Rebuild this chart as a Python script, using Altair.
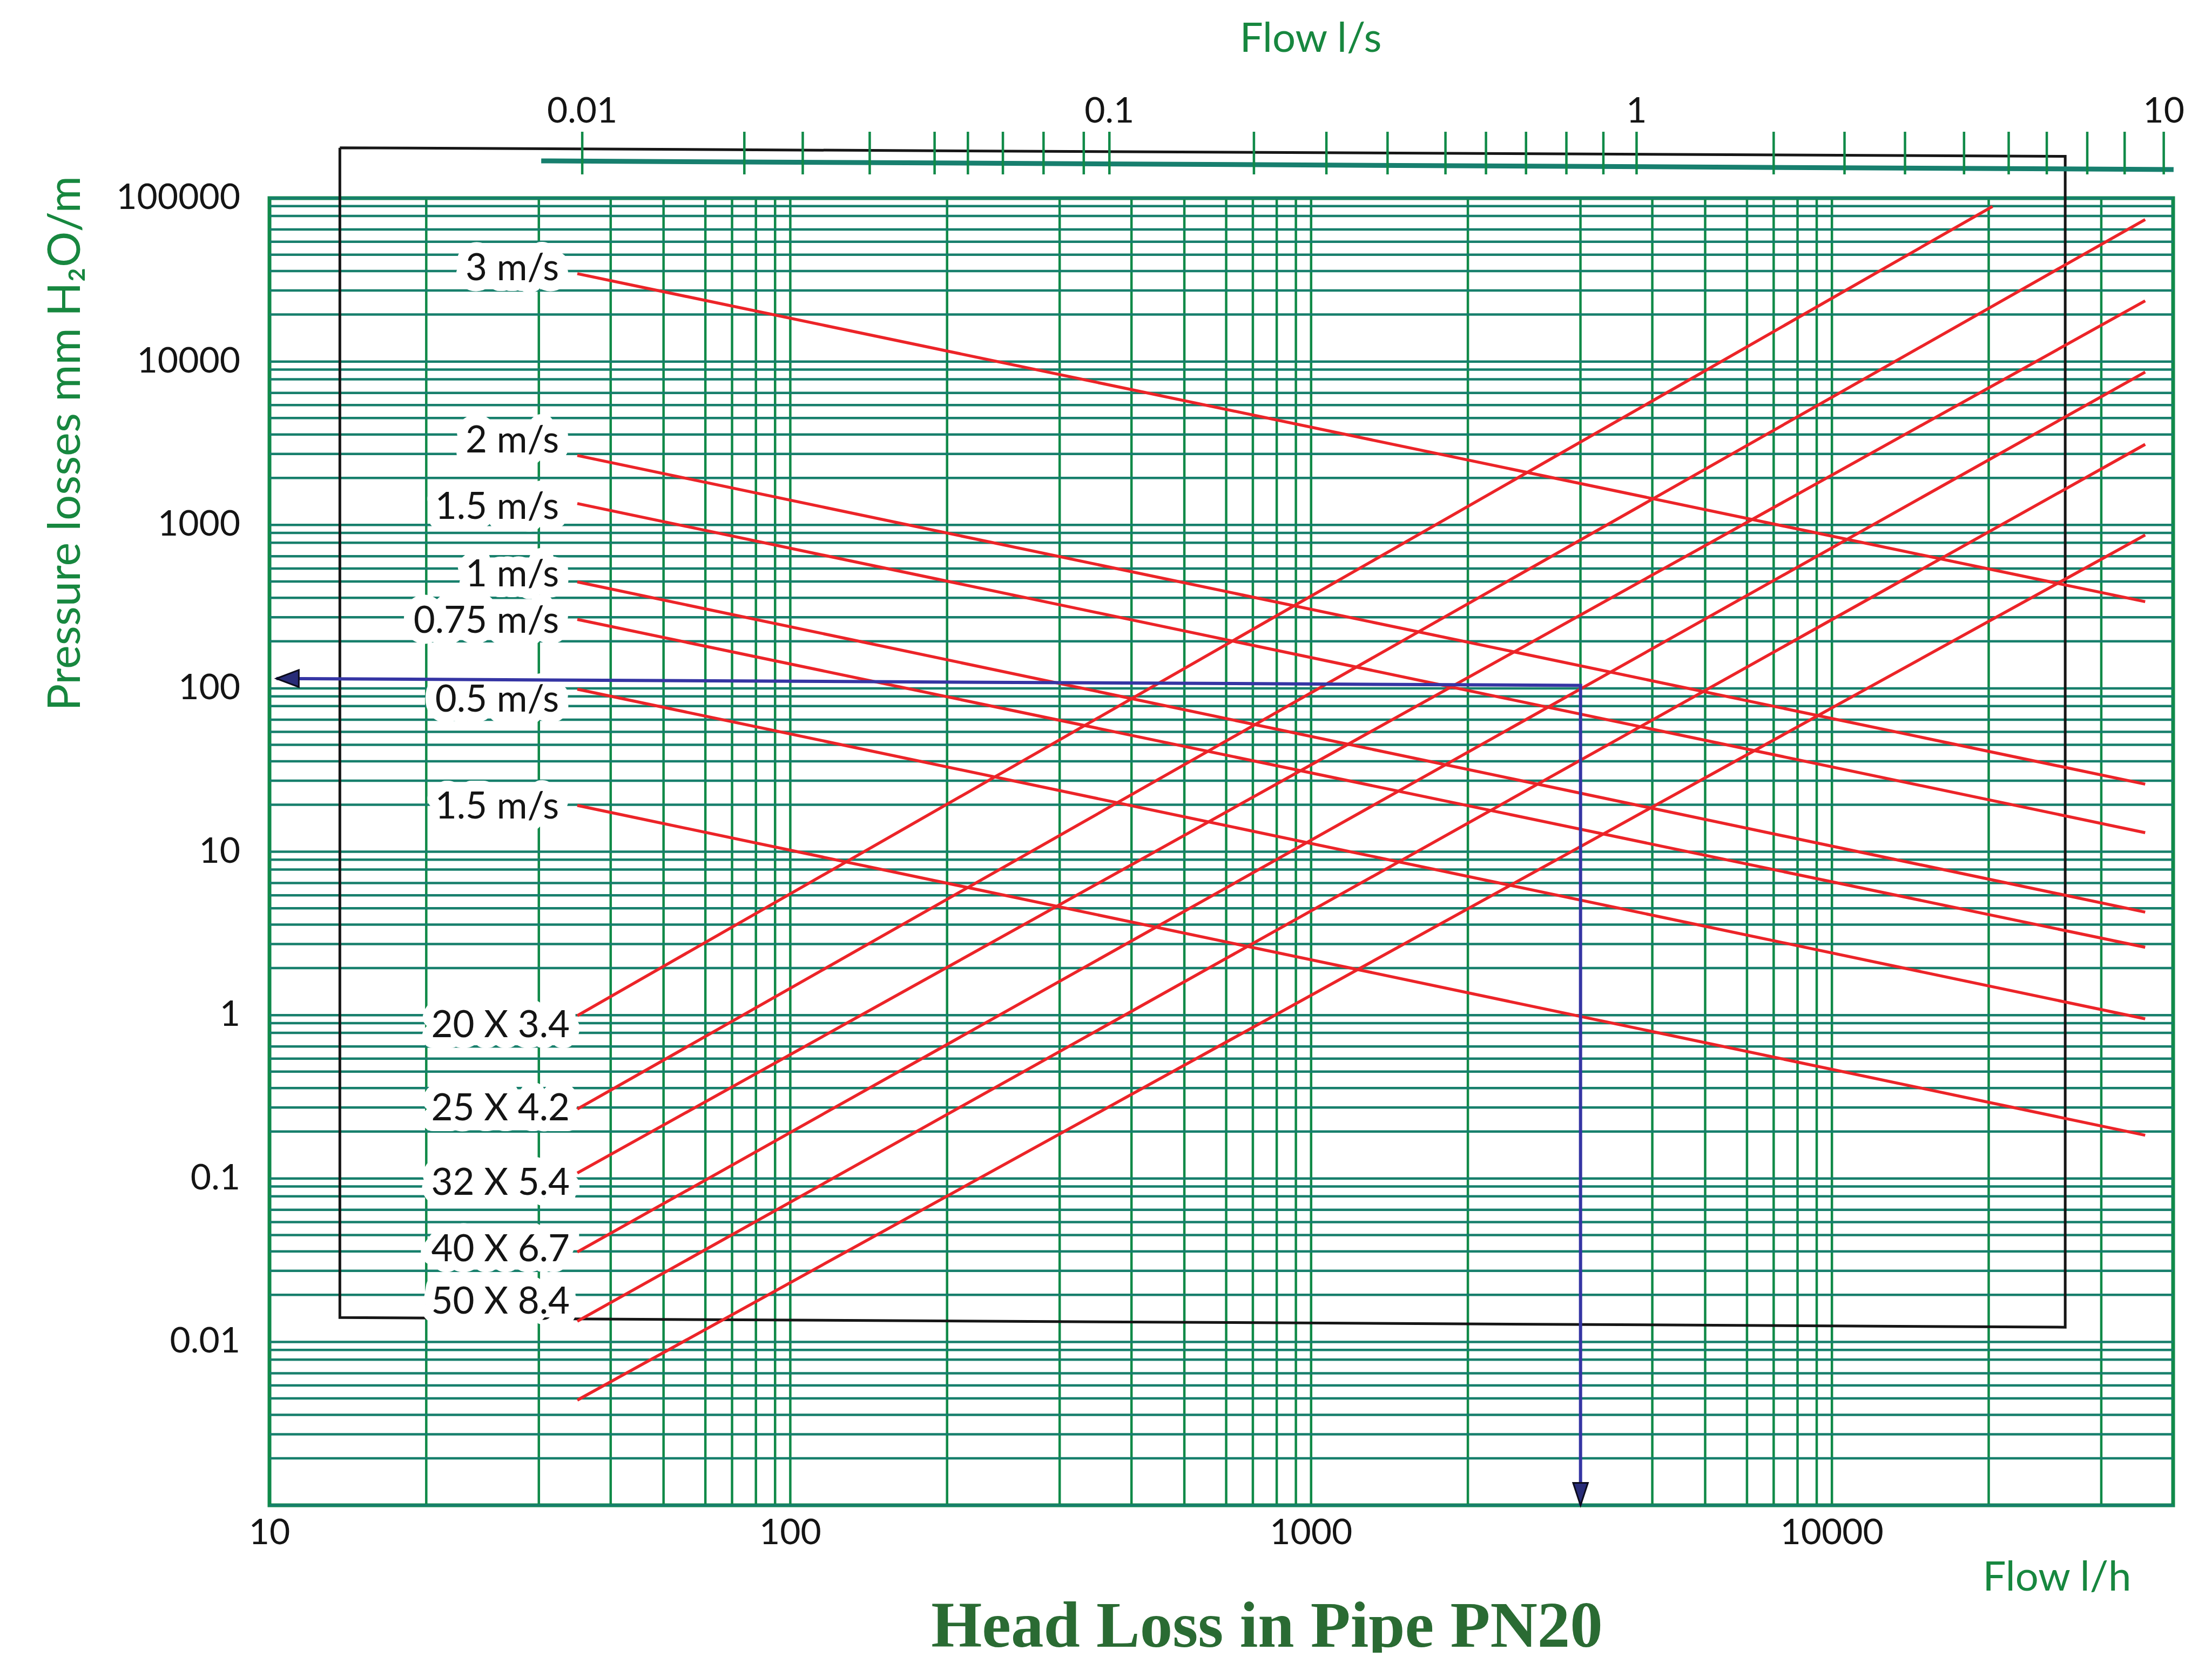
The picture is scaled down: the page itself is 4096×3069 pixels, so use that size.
import altair as alt
import pandas as pd

# ---------------- values ----------------
# bottom axis: Flow l/h  (vertical grid lines as drawn)
x_grid = [10, 20, 32.9, 45.2, 57.1, 68.7, 77.3, 85.9, 93.5,
          100, 200, 329, 452, 571, 687, 773, 859, 935,
          1000, 2000, 3290, 4520, 5710, 6870, 7730, 8590, 9350,
          10000, 20000, 32900, 45200]
x_labels = [10, 100, 1000, 10000]
x_label_text = ["10", "100", "1000", "10000"]

# left axis: pressure losses mm H2O/m (horizontal grid lines as drawn)
y_decades = [0.001, 0.01, 0.1, 1, 10, 100, 1000, 10000]
y_minor = [1.94, 2.72, 3.58, 4.51, 5.41, 6.43, 7.78, 8.93]
y_labels = [0.01, 0.1, 1, 10, 100, 1000, 10000, 100000]
y_label_text = ["0.01", "0.1", "1", "10", "100", "1000", "10000", "100000"]

# top axis: Flow l/s ticks as drawn
top_ticks = [0.01, 0.0203, 0.0262, 0.0351, 0.0466, 0.0539, 0.0628, 0.0750, 0.0894,
             0.1, 0.188, 0.258, 0.337, 0.434, 0.518, 0.617, 0.736, 0.865,
             1, 1.82, 2.48, 3.23, 4.18, 5.08, 6.00, 7.16, 8.43, 10]
top_label_vals = [0.01, 0.1, 1, 10]
top_label_text = ["0.01", "0.1", "1", "10"]
top_line_from = 0.00836
top_line_to = 10.44

# velocity lines (descending)
vel_labels = ["3 m/s", "2 m/s", "1.5 m/s", "1 m/s", "0.75 m/s", "0.5 m/s", "1.5 m/s"]
vel_label_y = [36800, 3262, 1282, 494, 256, 84.5, 18.7]
vel_x1 = [39.0] * 7
vel_y1 = [34500, 2660, 1352, 448, 264, 98.8, 19.2]
vel_x2 = [39950] * 7
vel_y2 = [339, 25.9, 13.08, 4.27, 2.60, 0.949, 0.184]

# pipe size lines (ascending)
pipe_labels = ["20 X 3.4", "25 X 4.2", "32 X 5.4", "40 X 6.7", "50 X 8.4", ""]
pipe_label_y = [0.861, 0.266, 0.0929, 0.0366, 0.0175, 0.00440]
pipe_x1 = [39.0] * 6
pipe_y1 = [0.993, 0.266, 0.108, 0.0355, 0.01337, 0.00440]
pipe_x2 = [20340, 39950, 39950, 39950, 39950, 39950]
pipe_y2 = [89000, 74000, 23530, 8625, 3113, 867.6]

# black frame drawn over the chart
box_x = [13.65, 28050, 28050, 13.65, 13.65]
box_y = [203400, 180300, 0.0123, 0.01409, 203400]

# blue reading example (arrow)
blue_x = [10.31, 3291, 3291]
blue_y = [114.8, 104.2, 0.001]

# ---------------- styling ----------------
W, H = 3525, 2421
FONT = "Lato"
TXT = "#141414"
GREEN_TITLE = "#17873f"
H_GRID = "#177f6c"
V_GRID = "#108a48"
RED = "#ec2428"
BLUE = "#3535a4"

xs = alt.Scale(type="log", domain=[10, 45200], nice=False)
ys = alt.Scale(type="log", domain=[0.001, 100000], nice=False)
ts = alt.Scale(type="log", domain=[0.002551, 10.418], nice=False)

y_grid = [d * m for d in y_decades for m in [1] + y_minor] + [100000]

vgrid = alt.Chart(pd.DataFrame({"x": x_grid})).mark_rule(
    color=V_GRID, strokeWidth=4.5).encode(x=alt.X("x:Q", scale=xs, axis=None))
hgrid = alt.Chart(pd.DataFrame({"y": y_grid})).mark_rule(
    color=H_GRID, strokeWidth=4.5).encode(y=alt.Y("y:Q", scale=ys, axis=None))

x_axis_labels = alt.Chart(pd.DataFrame({"v": x_labels, "t": x_label_text})).mark_text(
    font=FONT, fontSize=66, color=TXT, align="center", baseline="top").encode(
    x=alt.X("v:Q", scale=xs, axis=None), y=alt.value(H + 20), text="t:N")
y_axis_labels = alt.Chart(pd.DataFrame({"v": y_labels, "t": y_label_text})).mark_text(
    font=FONT, fontSize=66, color=TXT, align="right", baseline="middle").encode(
    y=alt.Y("v:Q", scale=ys, axis=None), x=alt.value(-54), text="t:N")

box = alt.Chart(pd.DataFrame({"x": box_x, "y": box_y, "o": list(range(len(box_x)))})).mark_line(
    color="#161616", strokeWidth=5).encode(
    x=alt.X("x:Q", scale=xs, axis=None), y=alt.Y("y:Q", scale=ys, axis=None), order="o:Q")

vel_df = pd.DataFrame({"label": vel_labels, "ly": vel_label_y, "x1": vel_x1, "y1": vel_y1,
                       "x2": vel_x2, "y2": vel_y2})
pipe_df = pd.DataFrame({"label": pipe_labels, "ly": pipe_label_y, "x1": pipe_x1, "y1": pipe_y1,
                        "x2": pipe_x2, "y2": pipe_y2})


def red_lines(df):
    return alt.Chart(df).mark_rule(color=RED, strokeWidth=5.5).encode(
        x=alt.X("x1:Q", scale=xs, axis=None), y=alt.Y("y1:Q", scale=ys, axis=None),
        x2="x2:Q", y2="y2:Q")


def labels(df, dx, halo):
    kw = dict(align="right", baseline="middle", dx=dx, font=FONT, fontSize=69)
    if halo:
        mark = alt.Chart(df).mark_text(fill="white", stroke="white", strokeWidth=40,
                                       strokeJoin="round", **kw)
    else:
        mark = alt.Chart(df).mark_text(color=TXT, **kw)
    return mark.encode(x=alt.X("x1:Q", scale=xs, axis=None),
                       y=alt.Y("ly:Q", scale=ys, axis=None), text="label:N")


blue_df = pd.DataFrame({"x": blue_x, "y": blue_y, "o": list(range(len(blue_x)))})
blue_line = alt.Chart(blue_df).mark_line(color=BLUE, strokeWidth=6).encode(
    x=alt.X("x:Q", scale=xs, axis=None), y=alt.Y("y:Q", scale=ys, axis=None), order="o:Q")

arrow_left = alt.Chart(blue_df.iloc[[0]]).mark_point(
    shape="M0,0 L1,-0.38 L1,0.38 Z", size=6900, filled=True, color="#282c78",
    stroke="#0c0c1c", strokeWidth=3, opacity=1).encode(
    x=alt.X("x:Q", scale=xs, axis=None), y=alt.Y("y:Q", scale=ys, axis=None))
arrow_down = alt.Chart(blue_df.iloc[[2]]).mark_point(
    shape="M0,0 L-0.33,-1 L0.33,-1 Z", size=6900, filled=True, color="#282c78",
    stroke="#0c0c1c", strokeWidth=3, opacity=1).encode(
    x=alt.X("x:Q", scale=xs, axis=None), y=alt.Y("y:Q", scale=ys, axis=None))

main = alt.layer(vgrid, hgrid, x_axis_labels, y_axis_labels, box,
                 labels(vel_df, -34, True), labels(pipe_df, -14, True),
                 red_lines(vel_df), red_lines(pipe_df),
                 labels(vel_df, -34, False), labels(pipe_df, -14, False),
                 blue_line, arrow_left, arrow_down)

# ---- top axis (Flow l/s) ----
top_line = alt.Chart(pd.DataFrame({"a": [top_line_from], "b": [top_line_to]})).mark_rule(
    color="#177f6e", strokeWidth=9).encode(
    x=alt.X("a:Q", scale=ts, axis=None), x2="b:Q", y=alt.value(-69), y2=alt.value(-53))
top_tick_marks = alt.Chart(pd.DataFrame({"v": top_ticks})).mark_rule(
    color=V_GRID, strokeWidth=4.5).encode(
    x=alt.X("v:Q", scale=ts, axis=None), y=alt.value(-123), y2=alt.value(-44))
top_lbls = alt.Chart(pd.DataFrame({"v": top_label_vals, "t": top_label_text})).mark_text(
    font=FONT, fontSize=66, color=TXT, baseline="middle").encode(
    x=alt.X("v:Q", scale=ts, axis=None), y=alt.value(-160), text="t:N")


def free_text(s, x, y, **kw):
    return alt.Chart(pd.DataFrame({"t": [s]})).mark_text(**kw).encode(
        text="t:N", x=alt.value(x), y=alt.value(y))


t_flow_ls = free_text("Flow l/s", 1928, -294, font=FONT, fontSize=76, color=GREEN_TITLE,
                      align="center", baseline="middle")
t_flow_lh = free_text("Flow l/h", 3310, 2556, font=FONT, fontSize=76, color=GREEN_TITLE,
                      align="center", baseline="middle")
t_ytitle = free_text("Pressure losses mm H\u2082O/m", -351, -41, font=FONT, fontSize=83,
                     color=GREEN_TITLE, align="right", baseline="alphabetic", angle=270)
t_main = free_text("Head Loss in Pipe PN20", 1847, 2683, font="Liberation Serif",
                   fontSize=121, fontWeight="bold", color="#2a6b33", align="center",
                   baseline="alphabetic")

top = alt.layer(top_line, top_tick_marks, top_lbls, t_flow_ls, t_flow_lh, t_ytitle, t_main)

chart = alt.layer(main, top).resolve_scale(x="independent").properties(
    width=W, height=H,
    autosize=alt.AutoSizeParams(type="none"),
    padding={"left": 491, "top": 359, "right": 64, "bottom": 273},
    background="white",
).configure_view(stroke="#128a50", strokeWidth=7)

chart.save("out.html", embed_options={"renderer": "svg", "actions": False})
